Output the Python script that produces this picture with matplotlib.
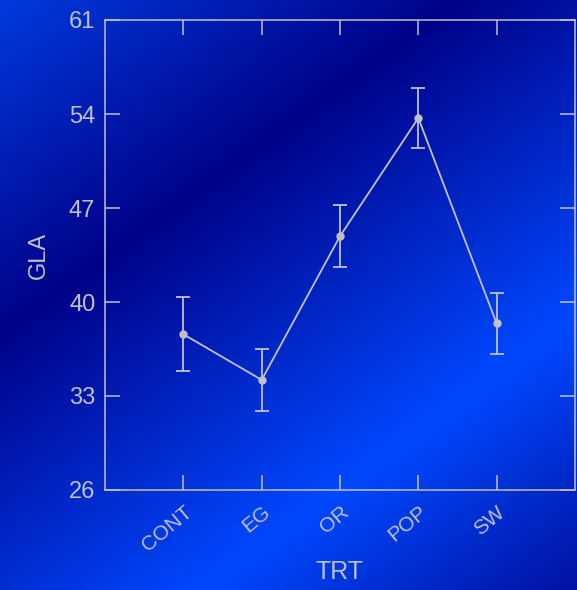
import numpy as np
import matplotlib
matplotlib.use("Agg")
import matplotlib.pyplot as plt

# Data
treatments = ["CONT", "EG", "OR", "POP", "SW"]
gla_mean = [37.6, 34.2, 44.9, 53.7, 38.4]
gla_err = [2.75, 2.3, 2.3, 2.25, 2.25]

y_ticks = [26, 33, 40, 47, 54, 61]

fg = "#c0c0c8"
plt.rcParams["font.family"] = ["Liberation Sans", "DejaVu Sans"]

W, H = 577, 590
fig = plt.figure(figsize=(W / 100, H / 100), dpi=100)

# Diagonal blue gradient background
yy, xx = np.mgrid[0:H, 0:W]
t = 0.588 * xx + 0.809 * yy
stops = [0, 270, 595, 840]
g = np.interp(t, stops, [58, 2, 72, 12])
b = np.interp(t, stops, [222, 136, 255, 150])
img = np.dstack([np.zeros_like(g), g, b]) / 255.0
bg = fig.add_axes([0, 0, 1, 1], zorder=-1)
bg.imshow(img, aspect="auto", interpolation="bilinear")
bg.axis("off")

ax = fig.add_axes([105 / W, 1 - 490 / H, 470 / W, 470 / H])
ax.set_facecolor("none")

x = np.arange(1, len(treatments) + 1)
ax.errorbar(x, gla_mean, yerr=gla_err, color=fg, linewidth=1.3,
            elinewidth=1.3, capsize=5, capthick=1.3,
            marker="o", markersize=5, markerfacecolor=fg, markeredgecolor=fg)

ax.set_xlim(0, 6)
ax.set_ylim(26, 61)
ax.set_xticks(x)
ax.set_xticklabels(treatments, rotation=40, ha="right", rotation_mode="anchor")
ax.set_yticks(y_ticks)

for s in ax.spines.values():
    s.set_color(fg)
    s.set_linewidth(1.1)

ax.tick_params(axis="both", direction="in", length=11, width=1.1, color=fg,
               labelcolor=fg, top=True, right=True, pad=7)
ax.tick_params(axis="y", labelsize=17)
ax.tick_params(axis="x", labelsize=15, pad=9)

ax.set_xlabel("TRT", color=fg, fontsize=18)
ax.xaxis.set_label_coords(0.5, -0.148)
ax.set_ylabel("GLA", color=fg, fontsize=17, labelpad=14)

fig.savefig("out.png", dpi=100)
